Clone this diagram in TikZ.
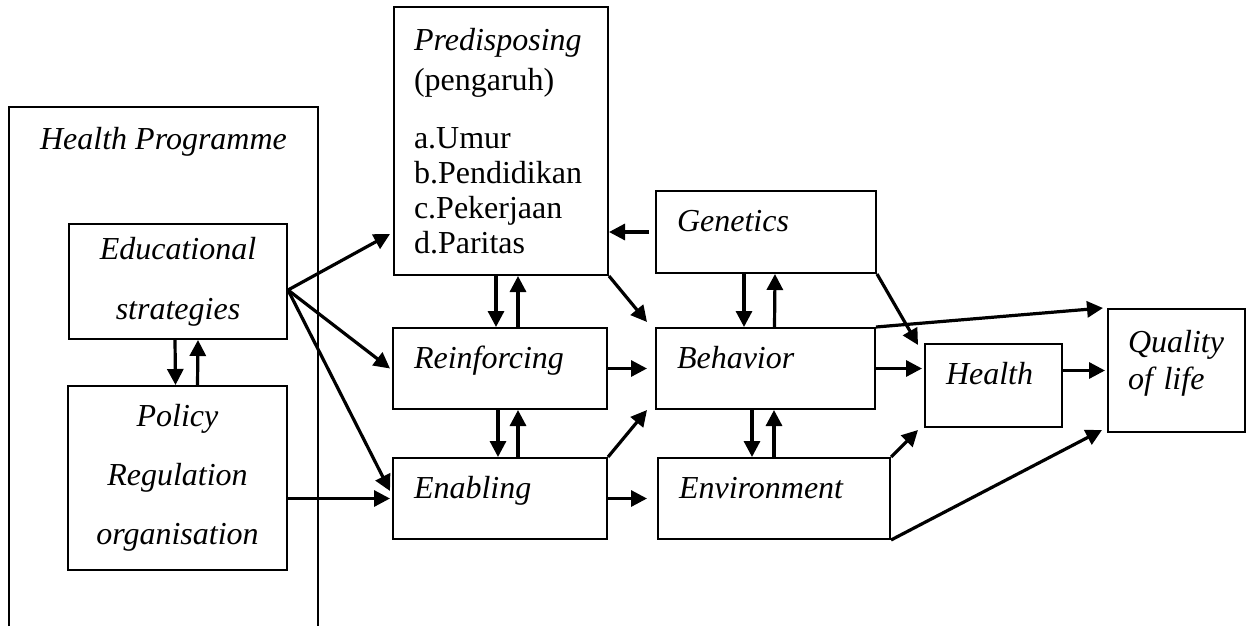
\documentclass[tikz,border=0pt]{standalone}
\usepackage{fontspec}
\setmainfont{Liberation Serif}
\usetikzlibrary{arrows.meta}

\begin{document}
\begin{tikzpicture}[x=0.5pt,y=-0.5pt,
    box/.style={draw,line width=1pt,anchor=north west,align=left,
      inner xsep=10.5pt,inner ysep=0pt,text height=20pt,text depth=20.5pt,
      text width=#1,font=\fontsize{16}{19}\selectfont\itshape},
    mbox/.style={draw,line width=1pt,anchor=north west,inner sep=0pt},
    arr/.style={line width=1.6pt,-{Triangle[length=8pt,width=8pt]}}]
      \useasboundingbox (0,0) rectangle (1251,626);
      \draw[line width=1pt] (9,626) |- (318,107) -- (318,626);
      \node[anchor=base,font=\fontsize{16}{19}\selectfont\itshape] (hp) at (163.5,149) {Health Programme};
      \node[mbox,minimum width=109pt,minimum height=57.5pt,align=center,
        font=\fontsize{16}{30}\selectfont\itshape] (edu) at (68,223) {Educational\\strategies};
      \node[mbox,minimum width=109.5pt,minimum height=92pt,align=center,
        font=\fontsize{16}{29.5}\selectfont\itshape] (pol) at (67,385) {Policy\\Regulation\\organisation};
      \node[mbox,inner xsep=10pt,text width=87pt,minimum height=134pt,align=left,
        font=\fontsize{16}{17.5}\selectfont] (pre) at (393,6)
        {\textit{Predisposing}\\[2.5pt](pengaruh)\\[11.5pt]a.Umur\\b.Pendidikan\\c.Pekerjaan\\d.Paritas};
      \node[box=86pt] (rei) at (392,327) {Reinforcing};
      \node[box=86pt] (ena) at (392,457) {Enabling};
      \node[box=89pt,text depth=21pt] (gen) at (655,190) {Genetics};
      \node[box=88.5pt] (beh) at (655,327) {Behavior};
      \node[box=95pt] (env) at (657,457) {Environment};
      \node[box=47.5pt,text depth=21.5pt] (hea) at (924,343) {Health};
      \node[mbox,inner xsep=10pt,text width=48.5pt,minimum height=61.5pt,align=left,
        font=\fontsize{16}{18.5}\selectfont\itshape] (qol) at (1107,308) {Quality\\of life\rule[-11pt]{0pt}{11pt}};

      \draw[arr] ([xshift=-1.5pt]edu.south) -- ([xshift=-1pt]pol.north);
      \draw[arr] ([xshift=10pt]pol.north) -- ([xshift=10pt]edu.south);
      \draw[arr] ([yshift=-4.25pt]edu.east) -- ([xshift=-1.5pt,yshift=-46.5pt]pre.west);
      \draw[arr] ([yshift=-4.25pt]edu.east) -- ([xshift=-1pt]rei.west);
      \draw[arr] ([yshift=-4.25pt]edu.east) -- ([xshift=-1pt,yshift=3.75pt]ena.west);
      \draw[arr] (pol.east |- ena.west) -- ([xshift=-1pt]ena.west);

      \draw[arr] ([xshift=-2.5pt]pre.south) -- ([xshift=-2pt]rei.north);
      \draw[arr] ([xshift=9pt]rei.north) -- ([xshift=8.5pt]pre.south);
      \draw[arr] ([xshift=-1pt]rei.south) -- ([xshift=-1pt]ena.north);
      \draw[arr] ([xshift=9pt]ena.north) -- ([xshift=9pt]rei.south);
      \draw[arr,shorten >=4pt] (rei.east) -- (beh.west);
      \draw[arr,shorten >=5pt] (ena.east) -- (env.west);
      \draw[arr] (pre.south east) -- ([xshift=-4pt,yshift=2.5pt]beh.north west);
      \draw[arr] (ena.north east) -- ([xshift=-4pt]beh.south west);
      \draw[arr,shorten <=3pt] (gen.west) -- (gen.west -| pre.east);

      \draw[arr] ([xshift=-11pt]gen.south) -- ([xshift=-10.75pt]beh.north);
      \draw[arr] ([xshift=4.5pt]beh.north) -- ([xshift=4.5pt]gen.south);
      \draw[arr] ([xshift=-6.75pt]beh.south) -- ([xshift=-11pt]env.north);
      \draw[arr] (env.north) -- ([xshift=4.25pt]beh.south);

      \draw[arr] (gen.south east) -- ([xshift=-3pt,yshift=-1pt]hea.north west);
      \draw[arr] (beh.north east) -- ([xshift=-2pt]qol.north west);
      \draw[arr,shorten >=1pt] (beh.east) -- (beh.east -| hea.west);
      \draw[arr] (env.north east) -- ([xshift=-3pt,yshift=-1pt]hea.south west);
      \draw[arr] (env.south east) -- ([xshift=-2.5pt,yshift=1.5pt]qol.south west);
      \draw[arr,shorten >=1pt] (qol.west -| hea.east) -- (qol.west);
    \end{tikzpicture}
\end{document}
